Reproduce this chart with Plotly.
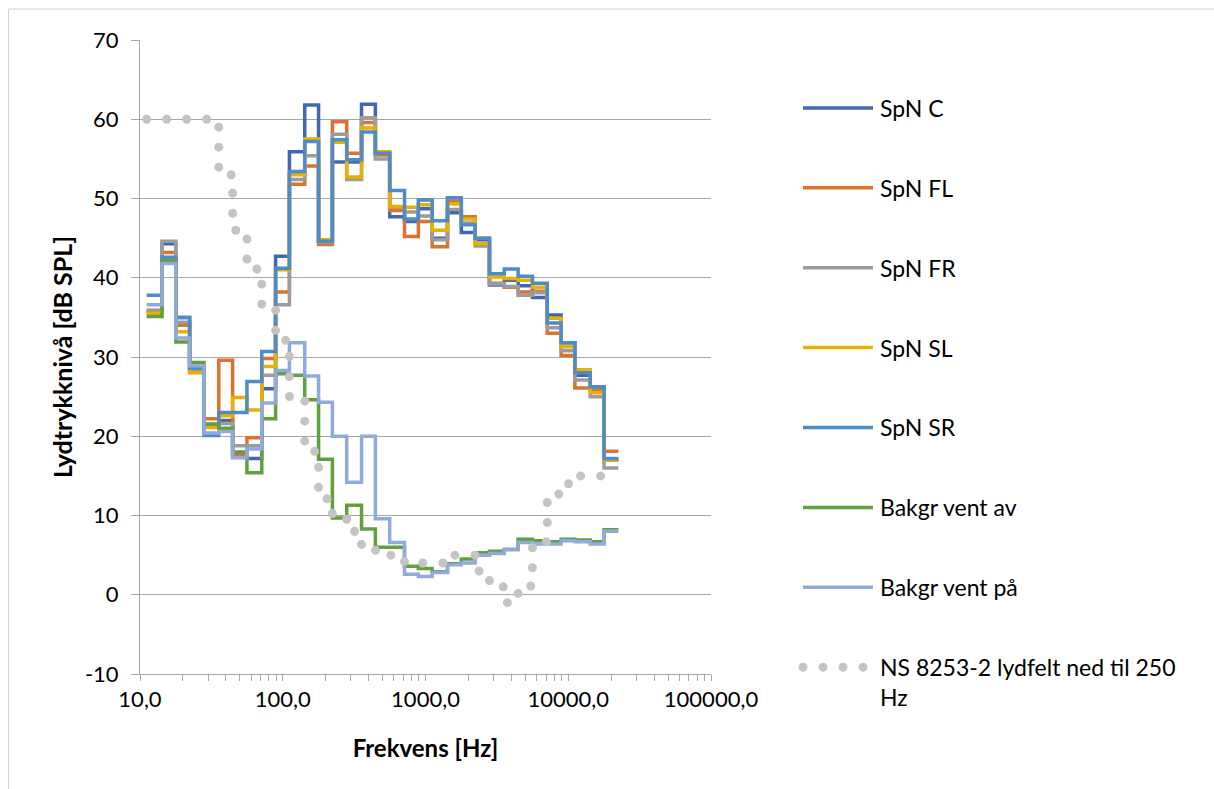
import plotly.graph_objects as go

bands = [12.5, 16, 20, 25, 31.5, 40, 50, 63, 80, 100, 125, 160, 200, 250, 315, 400, 500,
         630, 800, 1000, 1250, 1600, 2000, 2500, 3150, 4000, 5000, 6300, 8000, 10000,
         12500, 16000, 20000]

spn_c = [35.7, 44.3, 35.0, 28.5, 21.5, 22.0, 17.5, 17.2, 26.0, 42.7, 55.9, 61.8, 44.5, 54.6,
         54.6, 61.9, 55.7, 47.7, 47.1, 48.7, 45.0, 48.2, 45.7, 44.8, 39.1, 39.7, 39.0, 37.5,
         35.3, 31.8, 27.7, 26.2, 17.0]
spn_fl = [35.9, 43.2, 34.0, 28.3, 22.2, 29.6, 17.7, 19.8, 29.8, 38.2, 51.8, 54.1, 44.2, 59.7,
          55.7, 59.6, 55.5, 48.5, 45.2, 47.1, 43.9, 49.7, 47.7, 45.0, 39.3, 38.8, 38.2, 38.3,
          33.0, 30.2, 26.1, 25.9, 18.1]
spn_fr = [35.8, 44.6, 34.4, 28.4, 21.5, 21.6, 18.8, 18.8, 27.7, 36.6, 52.4, 55.4, 44.5, 58.1,
          52.4, 60.2, 55.0, 48.9, 48.3, 47.8, 44.8, 48.6, 46.9, 44.0, 39.2, 38.9, 37.8, 38.1,
          33.7, 30.8, 27.1, 25.0, 16.0]
spn_sl = [35.5, 42.4, 33.2, 28.0, 21.1, 22.6, 24.9, 23.3, 28.8, 41.0, 53.0, 57.5, 44.8, 57.1,
          52.7, 58.9, 55.9, 49.0, 48.9, 49.2, 46.0, 49.3, 47.4, 44.3, 40.1, 39.9, 39.7, 38.8,
          34.9, 31.3, 28.4, 25.5, 17.0]
spn_sr = [37.8, 42.6, 35.0, 28.6, 20.1, 23.0, 23.0, 26.9, 30.7, 41.2, 53.4, 57.2, 44.6, 57.4,
          54.9, 58.4, 55.7, 51.0, 47.4, 49.8, 47.2, 50.1, 46.7, 45.0, 40.5, 41.1, 40.2, 39.3,
          34.3, 31.8, 28.0, 26.2, 17.2]
bg_av = [35.1, 42.1, 31.9, 29.3, 21.5, 21.0, 18.0, 15.4, 22.2, 27.9, 27.7, 24.6, 17.1, 9.7,
         11.3, 8.3, 6.0, 6.0, 3.6, 3.3, 2.9, 3.9, 4.5, 5.3, 5.5, 5.7, 7.0, 6.8, 6.7, 7.0, 6.9,
         6.7, 8.2]
bg_paa = [36.6, 41.8, 32.4, 28.9, 20.4, 20.6, 17.3, 18.4, 24.2, 28.3, 31.8, 27.6, 24.3, 20.0,
          14.2, 20.0, 9.6, 6.6, 2.6, 2.3, 2.8, 3.8, 4.0, 5.0, 5.2, 5.7, 6.6, 6.4, 6.4, 6.8, 6.7,
          6.4, 8.0]
ns_8253 = [60, 60, 60, 60, 60, 53, 46, 41.1, 36, 32.1, 24.8, 18.1, 12.1, 9.8, 8.0, 5.6, 5.6,
           5.0, 4.0, 4.0, 4.0, 5.0, 5.0, 3.0, 1.0, -1.0, 1.1, 6.7, 12.7, 14.0, 15.0, 15.0, 15.0]

y_tick_vals = [-10, 0, 10, 20, 30, 40, 50, 60, 70]
y_tick_text = ["-10", "0", "10", "20", "30", "40", "50", "60", "70"]
x_tick_vals = [10, 100, 1000, 10000, 100000]
x_tick_text = ["10,0", "100,0", "1000,0", "10000,0", "100000,0"]

names = ["SpN C", "SpN FL", "SpN FR", "SpN SL", "SpN SR", "Bakgr vent av", "Bakgr vent på",
         "NS 8253-2 lydfelt ned til 250<br>Hz"]
colors = ["#4068B0", "#DD7230", "#9C9C9C", "#E8B000", "#4E8CC8", "#62A03F", "#8FAADC", "#C4C4C4"]
series = [spn_c, spn_fl, spn_fr, spn_sl, spn_sr, bg_av, bg_paa, ns_8253]

# third-octave band edges derived from the band centres
k = 2 ** (1 / 6)
edges_x = [f / k for f in bands] + [bands[-1] * k]

fig = go.Figure()
for i, (nm, col, vals) in enumerate(zip(names, colors, series)):
    is_ns = i == len(series) - 1
    fig.add_trace(go.Scatter(
        x=edges_x, y=list(vals) + [vals[-1]], mode="lines", name=nm,
        line=dict(color=col, width=9 if is_ns else 3.5, shape="hv",
                  dash="0px,20px" if is_ns else "solid"),
        legendgroup=str(i),
    ))

W, H = 1214, 789
L, R, T, B = 140, 711, 39.5, 674.5
PW, PH = R - L, B - T

fig.update_layout(
    width=W, height=H,
    margin=dict(l=L, r=W - R, t=T, b=H - B, pad=0),
    paper_bgcolor="white", plot_bgcolor="white",
    font=dict(family="Lato, Carlito, sans-serif", size=22, color="#000000"),
    showlegend=True,
    legend=dict(x=(798 - L) / PW, xanchor="left", y=1 - (86 - T) / PH, yanchor="top",
                font=dict(size=23), tracegroupgap=47, valign="top", itemwidth=72,
                maxheight=770, bgcolor="rgba(0,0,0,0)"),
    xaxis=dict(type="log", range=[1, 5], tickmode="array", tickvals=x_tick_vals,
               ticktext=x_tick_text,
               showgrid=False, showline=True, linecolor="#A6A6A6", linewidth=1,
               ticks="outside", ticklen=6, tickcolor="#A6A6A6",
               minor=dict(ticks="outside", ticklen=6, tickcolor="#A6A6A6", dtick="D1", showgrid=False),
               title=dict(text="<b>Frekvens [Hz]</b>", font=dict(size=24), standoff=28),
               tickfont=dict(size=22), zeroline=False),
    yaxis=dict(range=[-10, 70], tickmode="array", tickvals=y_tick_vals, ticktext=y_tick_text,
               showgrid=True, gridcolor="#A6A6A6", gridwidth=1,
               showline=True, linecolor="#A6A6A6", linewidth=1,
               ticks="outside", ticklen=8, tickcolor="#A6A6A6", ticklabelstandoff=8,
               title=dict(text="<b>Lydtrykknivå [dB SPL]</b>", font=dict(size=25), standoff=5),
               tickfont=dict(size=22), zeroline=False),
    shapes=[dict(type="rect", xref="paper", yref="paper",
                 x0=(8.5 - L) / PW, x1=(1260 - L) / PW,
                 y0=(B - 850) / PH, y1=(B - 8.5) / PH,
                 line=dict(color="#D0D0D0", width=1), fillcolor="rgba(0,0,0,0)", layer="below")],
)

post = """
document.body.style.margin = '0';
document.body.style.padding = '0';
var gd = document.getElementById('{plot_id}');
function fixDots(){
  gd.querySelectorAll('.legend .legendlines path').forEach(function(p){
    p.setAttribute('d', 'M5,0h70');
  });
  gd.querySelectorAll('path').forEach(function(p){
    var d = p.style.strokeDasharray || '';
    if (d.indexOf('20') >= 0) { p.style.strokeLinecap = 'round'; }
  });
}
fixDots();
setTimeout(fixDots, 50);
if (gd.on) { gd.on('plotly_afterplot', fixDots); }
"""

fig.write_html("out.html", post_script=post, config={"displayModeBar": False})
